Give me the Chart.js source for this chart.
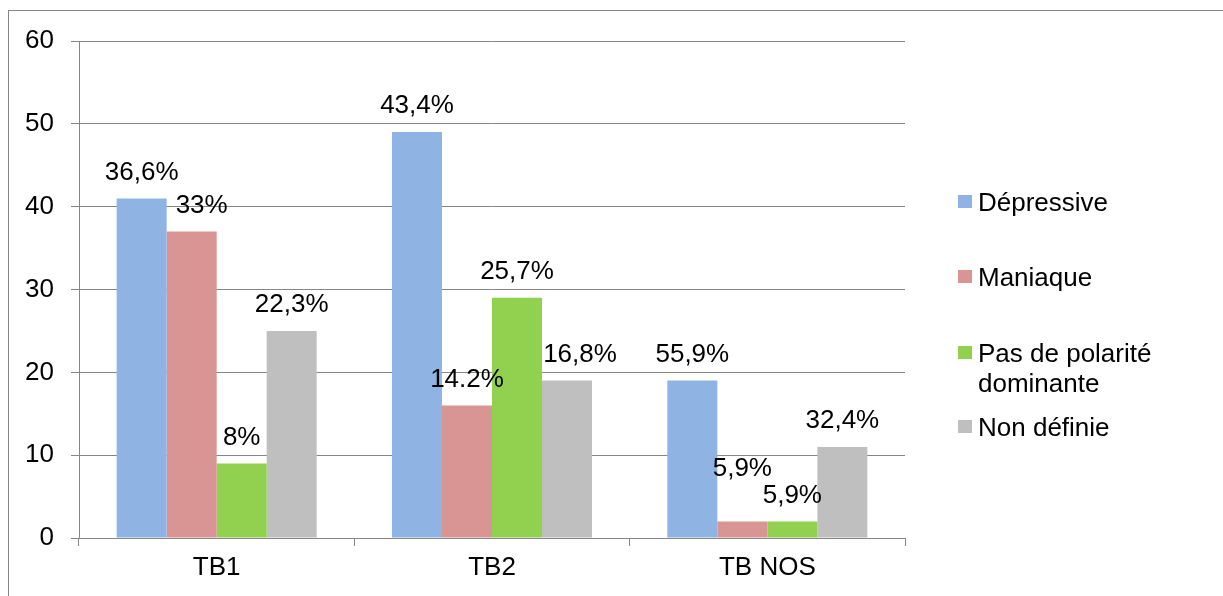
<!DOCTYPE html>
<html>
<head>
<meta charset="utf-8">
<script src="https://cdn.jsdelivr.net/npm/chart.js@4"></script>
<style>
	body { margin: 0; background: #fff; font-family: "Liberation Sans", Arial, sans-serif; }
	#wrap { position: relative; width: 1223px; height: 596px; overflow: hidden; }
	#frame { position: absolute; left: 8px; top: 10px; width: 1400px; height: 800px; border-left: 1px solid #868686; border-top: 1px solid #868686; }
	#chart { position: absolute; left: 0; top: 0; }
	.leg { position: absolute; left: 958px; font-size: 26px; line-height: 30px; color: #000; }
	.leg span.box { position: absolute; left: 0; top: 8px; width: 14px; height: 13px; }
	.leg span.txt { position: absolute; left: 20px; top: 0; white-space: nowrap; }
</style>
</head>
<body>
<div id="wrap">
	<div id="frame"></div>
	<canvas id="chart" width="1223" height="596"></canvas>
	<div id="legend"></div>
</div>
<script>
// categories and series
const categories = ["TB1", "TB2", "TB NOS"];
const seriesNames = ["Dépressive", "Maniaque", "Pas de polarité dominante", "Non définie"];
const depressive = [41, 49, 19];
const maniaque = [37, 16, 2];
const pasDePolarite = [9, 29, 2];
const nonDefinie = [25, 19, 11];

// the percentages printed over the bars
const depressiveLabels = ["36,6%", "43,4%", "55,9%"];
const maniaqueLabels = ["33%", "14.2%", "5,9%"];
const pasDePolariteLabels = ["8%", "25,7%", "5,9%"];
const nonDefinieLabels = ["22,3%", "16,8%", "32,4%"];

const yMin = 0;
const yMax = 60;
const yStep = 10;

const colors = ["#8fb3e2", "#d99594", "#92d050", "#bfbfbf"];
const gridColor = "#868686";
const fontFamily = "'Liberation Sans', Arial, sans-serif";

const allValues = [depressive, maniaque, pasDePolarite, nonDefinie];
const allLabels = [depressiveLabels, maniaqueLabels, pasDePolariteLabels, nonDefinieLabels];

// labels that Excel pushed aside to avoid overlaps: "dataset-index" -> [dx, dy]
const labelNudge = { "1-0": [10, 0], "3-1": [13, 0], "1-2": [0, -27] };

const barLabels = {
	id: "barLabels",
	afterDatasetsDraw(chart) {
		const c = chart.ctx;
		c.save();
		c.font = "26px " + fontFamily;
		c.fillStyle = "#000";
		c.textAlign = "center";
		c.textBaseline = "middle";
		chart.data.datasets.forEach((ds, i) => {
			chart.getDatasetMeta(i).data.forEach((bar, j) => {
				const n = labelNudge[i + "-" + j] || [0, 0];
				c.fillText(allLabels[i][j], bar.x + n[0], bar.y - 26 + n[1]);
			});
		});
		c.restore();
	}
};

const ctx = document.getElementById("chart").getContext("2d");
let myChart = new Chart(ctx, {
	type: "bar",
	data: {
		labels: categories,
		datasets: seriesNames.map((name, i) => ({
			label: name,
			data: allValues[i],
			backgroundColor: colors[i],
			borderWidth: 0,
			categoryPercentage: 0.7265,
			barPercentage: 1,
		})),
	},
	options: {
		responsive: false,
		animation: false,
		layout: { padding: { top: 41, right: 318, bottom: 0, left: 0 } },
		plugins: {
			legend: { display: false },
			tooltip: { enabled: false },
		},
		scales: {
			x: {
				grid: { offset: true, drawOnChartArea: false, drawTicks: true, tickLength: 8, color: gridColor },
				border: { color: gridColor },
				ticks: { color: "#000", font: { family: fontFamily, size: 26 }, padding: 6, maxRotation: 0 },
				afterFit: (s) => { s.height = 58; },
			},
			y: {
				min: yMin,
				max: yMax,
				ticks: { stepSize: yStep, color: "#000", font: { family: fontFamily, size: 26 }, padding: 17 },
				grid: { color: gridColor, tickLength: 8 },
				border: { color: gridColor },
				afterFit: (s) => { s.width = 79; },
			},
		},
	},
	plugins: [barLabels],
});

// legend on the right, as Excel lays it out
const legendTops = [187, 262, 338, 412];
const legendText = ["Dépressive", "Maniaque", "Pas de polarité<br>dominante", "Non définie"];
const legend = document.getElementById("legend");
legendText.forEach((t, i) => {
	const d = document.createElement("div");
	d.className = "leg";
	d.style.top = legendTops[i] + "px";
	d.innerHTML = '<span class="box" style="background:' + colors[i] + '"></span><span class="txt">' + t + "</span>";
	legend.appendChild(d);
});
</script>
</body>
</html>
